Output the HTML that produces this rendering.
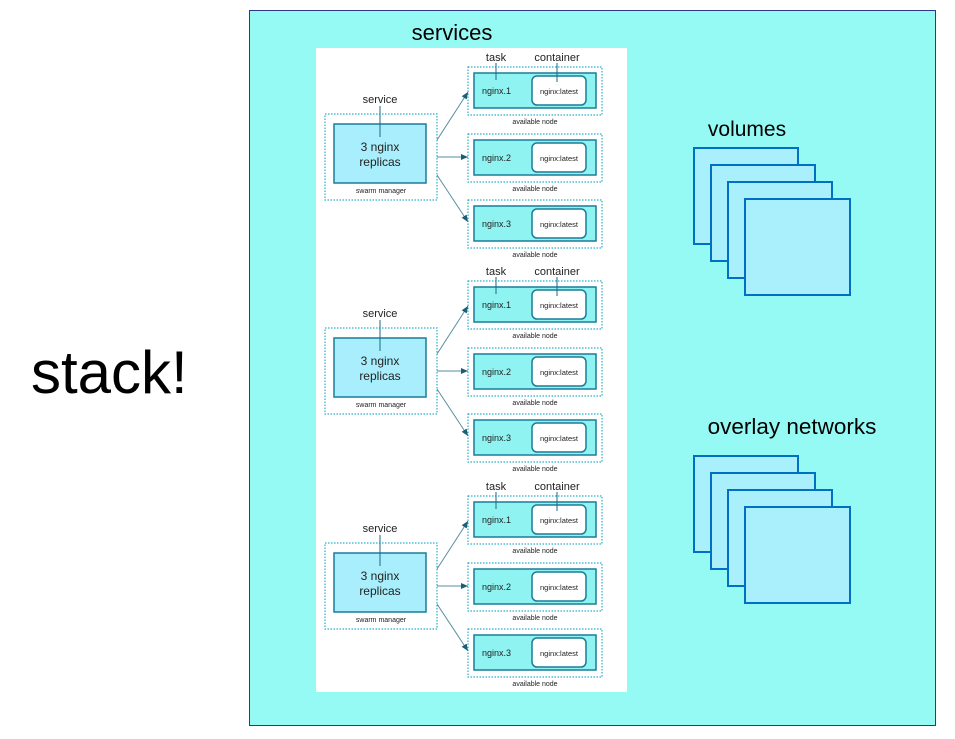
<!DOCTYPE html>
<html><head><meta charset="utf-8"><style>
body{margin:0;background:#fff;width:955px;height:734px;overflow:hidden;font-family:"Liberation Sans",sans-serif}
</style></head><body>
<svg width="955" height="734" viewBox="0 0 955 734" xmlns="http://www.w3.org/2000/svg" font-family="Liberation Sans, sans-serif">
<defs>
<marker id="ar" markerWidth="8" markerHeight="8" refX="7" refY="4" orient="auto" markerUnits="userSpaceOnUse">
<path d="M0,1 L7,4 L0,7 Z" fill="#1a5f78"/></marker>
<g id="blk">
 <text x="380" y="103" font-size="11" text-anchor="middle" fill="#222">service</text>
 <rect x="325" y="114" width="112" height="86" fill="none" stroke="#2aaecc" stroke-width="1.2" stroke-dasharray="1.5,1.5"/>
 <rect x="334" y="124" width="92" height="59" fill="#a8eefc" stroke="#1b7c99" stroke-width="1.5"/>
 <line x1="380" y1="106" x2="380" y2="137" stroke="#1b6a85"/>
 <text x="380" y="151" font-size="12" text-anchor="middle" fill="#222">3 nginx</text>
 <text x="380" y="166" font-size="12" text-anchor="middle" fill="#222">replicas</text>
 <text x="381" y="193" font-size="7" text-anchor="middle" fill="#222">swarm manager</text>
 <text x="496" y="61" font-size="11" text-anchor="middle" fill="#222">task</text>
 <text x="557" y="61" font-size="11" text-anchor="middle" fill="#222">container</text>
 <g id="node">
  <rect x="468" y="67" width="134" height="48" fill="none" stroke="#2aaecc" stroke-width="1.2" stroke-dasharray="1.5,1.5"/>
  <rect x="474" y="73" width="122" height="35" fill="#8ef3f1" stroke="#1b7c99" stroke-width="1.5"/>
  <rect x="532" y="76" width="54" height="29" rx="5" fill="#fff" stroke="#1b7c99" stroke-width="1.5"/>
  <text x="559" y="94" font-size="7.5" text-anchor="middle" fill="#222">nginx:latest</text>
  <text x="535" y="124" font-size="7" text-anchor="middle" fill="#222">available node</text>
 </g>
 <line x1="496" y1="63" x2="496" y2="80" stroke="#1b6a85"/>
 <line x1="557" y1="63" x2="557" y2="82" stroke="#1b6a85"/>
 <text x="482" y="94" font-size="9" fill="#222">nginx.1</text>
 <use href="#node" y="67"/>
 <text x="482" y="161" font-size="9" fill="#222">nginx.2</text>
 <use href="#node" y="133"/>
 <text x="482" y="227" font-size="9" fill="#222">nginx.3</text>
 <line x1="437" y1="140" x2="468" y2="92" stroke="#5a8ea0" marker-end="url(#ar)"/>
 <line x1="437" y1="157" x2="468" y2="157" stroke="#5a8ea0" marker-end="url(#ar)"/>
 <line x1="437" y1="175" x2="468" y2="222" stroke="#5a8ea0" marker-end="url(#ar)"/>
</g>
<g id="stk">
 <rect x="694" y="148" width="104" height="96" fill="#a9f0fc" stroke="#0070c0" stroke-width="2"/>
 <rect x="711" y="165" width="104" height="96" fill="#a9f0fc" stroke="#0070c0" stroke-width="2"/>
 <rect x="728" y="182" width="104" height="96" fill="#a9f0fc" stroke="#0070c0" stroke-width="2"/>
 <rect x="745" y="199" width="105" height="96" fill="#a9f0fc" stroke="#0070c0" stroke-width="2"/>
</g>
</defs>
<text x="31" y="393" font-size="60" fill="#000">stack!</text>
<rect x="249.5" y="10.5" width="686" height="715" fill="#96faf4" stroke="#2a3a8a" stroke-width="1"/>
<rect x="316" y="48" width="311" height="644" fill="#fff"/>
<text x="452" y="40" font-size="22" text-anchor="middle" fill="#000">services</text>
<use href="#blk"/>
<use href="#blk" y="214"/>
<use href="#blk" y="429"/>
<text x="747" y="136" font-size="21" text-anchor="middle" fill="#000">volumes</text>
<use href="#stk"/>
<text x="792" y="434" font-size="22.5" text-anchor="middle" fill="#000">overlay networks</text>
<use href="#stk" y="308"/>
</svg>
</body></html>
